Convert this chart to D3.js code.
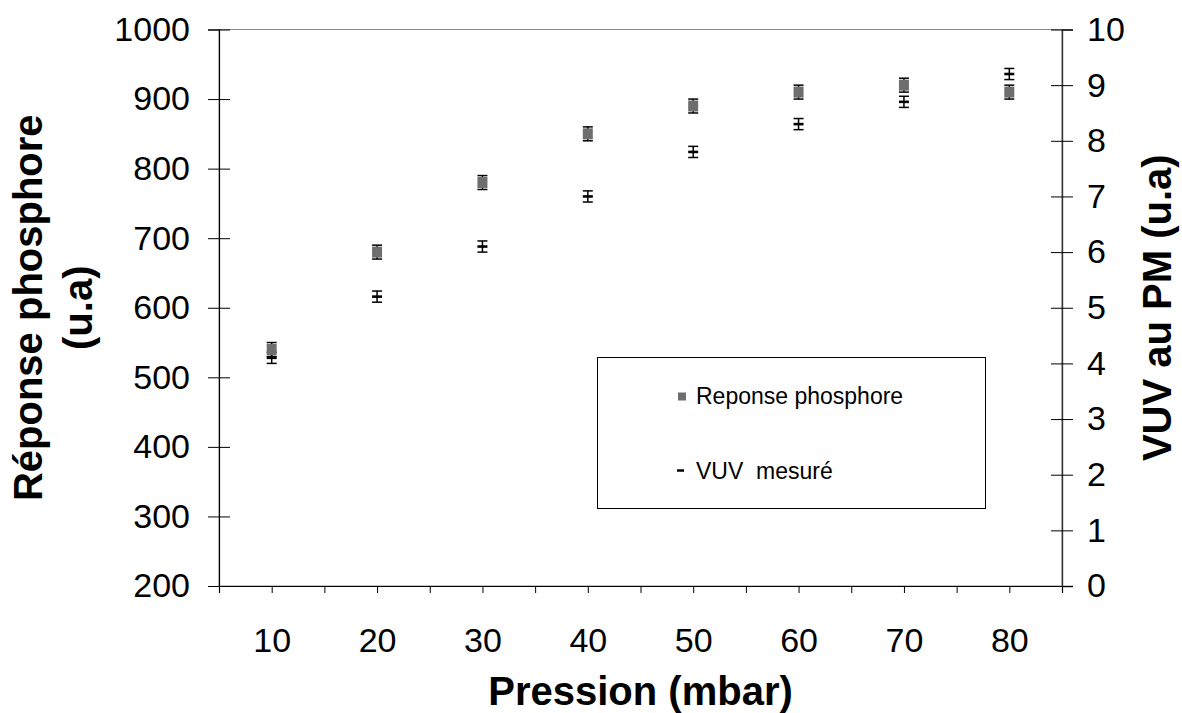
<!DOCTYPE html>
<html>
<head>
<meta charset="utf-8">
<script src="https://cdn.jsdelivr.net/npm/d3@7"></script>
<style>
  html, body { margin: 0; padding: 0; background: #fff; }
  svg { display: block; }
  text { font-family: "Liberation Sans", Arial, Helvetica, sans-serif; fill: #000; }
</style>
</head>
<body>
<svg id="chart" width="1182" height="713"></svg>
<script>
// ---- Data ----
const pressions = [10, 20, 30, 40, 50, 60, 70, 80];
const phosphore = [540, 680, 780, 850, 890, 910, 920, 910];
const phosphoreErr = [10, 10, 10, 10, 10, 10, 10, 10];
const vuv = [4.1, 5.2, 6.1, 7.0, 7.8, 8.3, 8.7, 9.2];
const vuvErr = [0.1, 0.1, 0.1, 0.1, 0.1, 0.1, 0.1, 0.1];
const leftTicks = [200, 300, 400, 500, 600, 700, 800, 900, 1000];
const rightTicks = [0, 1, 2, 3, 4, 5, 6, 7, 8, 9, 10];
const seriesNames = ["Reponse phosphore", "VUV  mesuré"];

// ---- Layout ----
const plot = { left: 219, right: 1062, top: 29.5, bottom: 586 };
const svg = d3.select("#chart");

const x = d3.scaleBand().domain(pressions).range([plot.left, plot.right]).padding(0);
const xIdx = d3.scaleLinear().domain([0, pressions.length]).range([plot.left, plot.right]);
const yL = d3.scaleLinear().domain([200, 1000]).range([plot.bottom, plot.top]);
const yR = d3.scaleLinear().domain([0, 10]).range([plot.bottom, plot.top]);
const cx = p => x(p) + x.bandwidth() / 2;

// plot border
svg.append("rect")
  .attr("x", plot.left).attr("y", plot.top)
  .attr("width", plot.right - plot.left).attr("height", plot.bottom - plot.top)
  .attr("fill", "none").attr("stroke", "#8a8a8a").attr("stroke-width", 1);

// ---- X axis ----
const halfTicks = d3.range(0, pressions.length + 0.001, 0.5);
const xAxis = d3.axisBottom(xIdx)
  .tickValues(halfTicks)
  .tickSize(7)
  .tickPadding(35)
  .tickFormat(v => (v % 1 === 0.5) ? String(pressions[Math.floor(v)]) : "");
const gx = svg.append("g").attr("transform", `translate(0,${plot.bottom})`).call(xAxis);
gx.select(".domain").attr("stroke", "#000").attr("stroke-width", 1.2);
gx.selectAll(".tick line").attr("stroke", "#000").attr("stroke-width", 1);
gx.selectAll(".tick text").style("font-size", "34px");

// ---- Left axis ----
const yAxisL = d3.axisLeft(yL).tickValues(leftTicks).tickSize(11).tickPadding(18).tickFormat(d3.format("d"));
const gl = svg.append("g").attr("transform", `translate(${plot.left},0)`).call(yAxisL);
gl.select(".domain").attr("stroke", "#000").attr("stroke-width", 1.2);
gl.selectAll(".tick line").attr("stroke", "#000").attr("stroke-width", 1);
gl.selectAll(".tick").append("line").attr("x1", 0).attr("x2", 11).attr("stroke", "#000").attr("stroke-width", 1);
gl.selectAll(".tick text").style("font-size", "34px");

// ---- Right axis ----
const yAxisR = d3.axisRight(yR).tickValues(rightTicks).tickSize(11).tickPadding(14).tickFormat(d3.format("d"));
const gr = svg.append("g").attr("transform", `translate(${plot.right},0)`).call(yAxisR);
gr.select(".domain").attr("stroke", "#333").attr("stroke-width", 1.4);
gr.selectAll(".tick line").attr("stroke", "#000").attr("stroke-width", 1);
gr.selectAll(".tick").append("line").attr("x1", 0).attr("x2", -11).attr("stroke", "#000").attr("stroke-width", 1);
gr.selectAll(".tick text").style("font-size", "34px");

// ---- Axis titles ----
svg.append("text")
  .attr("x", (plot.left + plot.right) / 2).attr("y", 705)
  .attr("text-anchor", "middle")
  .style("font-size", "40px").style("font-weight", "bold")
  .text("Pression (mbar)");

const midY = (plot.top + plot.bottom) / 2;
const lt = svg.append("text")
  .attr("transform", `translate(0,${midY}) rotate(-90)`)
  .attr("text-anchor", "middle")
  .style("font-size", "40px").style("font-weight", "bold");
lt.append("tspan").attr("x", 0).attr("y", 42).text("Réponse phosphore");
lt.append("tspan").attr("x", 0).attr("y", 92).text("(u.a)");

svg.append("text")
  .attr("transform", `translate(1171,${midY}) rotate(-90)`)
  .attr("text-anchor", "middle")
  .style("font-size", "40px").style("font-weight", "bold")
  .text("VUV au PM (u.a)");

// ---- Series: VUV (right axis) ----
const capW = 5;
const gv = svg.append("g");
pressions.forEach((p, i) => {
  const X = cx(p);
  const y0 = yR(vuv[i] - vuvErr[i]), y1 = yR(vuv[i] + vuvErr[i]);
  gv.append("line").attr("x1", X).attr("x2", X).attr("y1", y0).attr("y2", y1).attr("stroke", "#000").attr("stroke-width", 1.5);
  gv.append("line").attr("x1", X - capW).attr("x2", X + capW).attr("y1", y0).attr("y2", y0).attr("stroke", "#000").attr("stroke-width", 1.5);
  gv.append("line").attr("x1", X - capW).attr("x2", X + capW).attr("y1", y1).attr("y2", y1).attr("stroke", "#000").attr("stroke-width", 1.5);
  gv.append("line").attr("x1", X - 5).attr("x2", X + 5).attr("y1", yR(vuv[i])).attr("y2", yR(vuv[i])).attr("stroke", "#000").attr("stroke-width", 2.6);
});

// ---- Series: phosphore (left axis) ----
const gp = svg.append("g");
pressions.forEach((p, i) => {
  const X = cx(p);
  const y0 = yL(phosphore[i] - phosphoreErr[i]), y1 = yL(phosphore[i] + phosphoreErr[i]);
  gp.append("line").attr("x1", X).attr("x2", X).attr("y1", y0).attr("y2", y1).attr("stroke", "#000").attr("stroke-width", 1.5);
  gp.append("line").attr("x1", X - capW).attr("x2", X + capW).attr("y1", y0).attr("y2", y0).attr("stroke", "#000").attr("stroke-width", 1.5);
  gp.append("line").attr("x1", X - capW).attr("x2", X + capW).attr("y1", y1).attr("y2", y1).attr("stroke", "#000").attr("stroke-width", 1.5);
  gp.append("rect").attr("x", X - 5).attr("y", yL(phosphore[i]) - 5.5).attr("width", 10).attr("height", 11).attr("fill", "#6e6e6e");
});

// ---- Legend ----
const lg = svg.append("g");
lg.append("rect").attr("x", 597.5).attr("y", 357.5).attr("width", 388).attr("height", 151)
  .attr("fill", "#fff").attr("stroke", "#000").attr("stroke-width", 1);
lg.append("rect").attr("x", 678).attr("y", 392.5).attr("width", 8).attr("height", 8).attr("fill", "#6e6e6e");
lg.append("text").attr("x", 696).attr("y", 404).style("font-size", "23px").text(seriesNames[0]);
lg.append("line").attr("x1", 677).attr("x2", 684).attr("y1", 470.5).attr("y2", 470.5).attr("stroke", "#000").attr("stroke-width", 2.5);
lg.append("text").attr("x", 696).attr("y", 479).style("font-size", "23px").style("white-space", "pre").attr("xml:space", "preserve").text(seriesNames[1]);
</script>
</body>
</html>
